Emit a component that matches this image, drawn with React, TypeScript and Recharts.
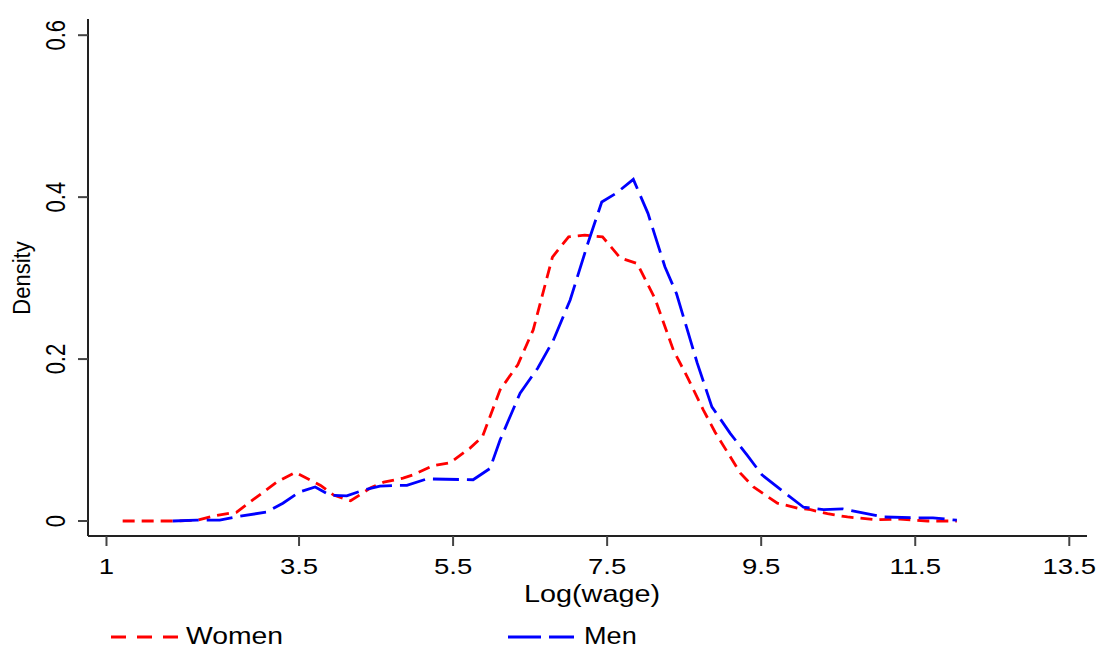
import { Line, LineChart, XAxis, YAxis } from "recharts";

const RED = "#FF0000";
const BLUE = "#0000FF";
const FONT = "'Liberation Sans', Arial, sans-serif";

const xTicks = [1, 3.5, 5.5, 7.5, 9.5, 11.5, 13.5];
const yTicks = [0, 0.2, 0.4, 0.6];

// kernel density of log wage, women
const womenX = [
  1.21, 1.86, 2.18, 2.38, 2.69, 2.9, 3.21, 3.45, 3.78, 3.95, 4.17, 4.43, 4.6, 4.85, 4.98, 5.23, 5.46, 5.72,
  5.88, 6.11, 6.34, 6.54, 6.79, 7.0, 7.21, 7.44, 7.67, 7.89, 8.12, 8.36, 8.54, 8.75, 8.9, 9.23, 9.4, 9.71,
  9.97, 10.14, 10.36, 10.62, 11.0, 11.3, 11.66, 12.04,
];
const womenY = [
  0.0, 0.0, 0.001, 0.006, 0.011, 0.026, 0.048, 0.06, 0.044, 0.032, 0.025, 0.041, 0.048, 0.053, 0.057, 0.068,
  0.072, 0.09, 0.104, 0.162, 0.193, 0.236, 0.326, 0.351, 0.353, 0.351, 0.325, 0.318, 0.275, 0.211, 0.178,
  0.137, 0.11, 0.059, 0.042, 0.022, 0.016, 0.014, 0.009, 0.005, 0.0015, 0.0025, 0.0, 0.0,
];

// men
const menX = [
  1.86, 2.17, 2.47, 2.73, 3.08, 3.29, 3.51, 3.71, 3.9, 4.12, 4.33, 4.55, 4.77, 4.9, 5.16, 5.76, 5.98, 6.11,
  6.37, 6.6, 6.8, 7.02, 7.25, 7.43, 7.62, 7.84, 8.03, 8.25, 8.4, 8.67, 8.86, 9.1, 9.32, 9.51, 9.79, 10.05,
  10.31, 10.56, 11.08, 11.47, 11.73, 12.04,
];
const menY = [
  0.0, 0.001, 0.001, 0.006, 0.011, 0.022, 0.036, 0.042, 0.032, 0.031, 0.038, 0.043, 0.044, 0.044, 0.052, 0.051,
  0.065, 0.1, 0.158, 0.189, 0.223, 0.273, 0.343, 0.394, 0.405, 0.422, 0.38, 0.314, 0.281, 0.195, 0.141, 0.108,
  0.081, 0.057, 0.036, 0.017, 0.014, 0.015, 0.005, 0.004, 0.004, 0.001,
];

const women = womenX.map((x, i) => ({ x, y: womenY[i] }));
const men = menX.map((x, i) => ({ x, y: menY[i] }));

function XTick({ x, y, payload }: any) {
  return (
    <g transform={`translate(${x},${y}) scale(1.25,1)`}>
      <text textAnchor="middle" dy="0.71em" fontSize={22} fontFamily={FONT} fill="#000">
        {payload.value}
      </text>
    </g>
  );
}

function YTick({ x, y, payload }: any) {
  return (
    <g transform={`translate(${x},${y}) scale(1.25,1) rotate(-90)`}>
      <text textAnchor="middle" fontSize={22} fontFamily={FONT} fill="#000">
        {payload.value}
      </text>
    </g>
  );
}

export default function App() {
  return (
    <div style={{ position: "absolute", left: 0, top: 0, width: 1100, height: 649, background: "#fff" }}>
      <LineChart width={1100} height={649} margin={{ top: 19, right: 13, left: 0, bottom: 0 }}>
        <XAxis
          type="number"
          dataKey="x"
          domain={[0.76, 13.73]}
          ticks={xTicks}
          allowDataOverflow
          height={113}
          tickSize={10}
          tickMargin={12}
          tick={<XTick />}
          stroke="#222"
          strokeWidth={2}
          tickLine={{ stroke: "#444", strokeWidth: 2 }}
        />
        <XAxis
          xAxisId="top"
          orientation="top"
          type="number"
          domain={[0.76, 13.73]}
          height={0}
          tick={false}
          tickLine={false}
          stroke="#333"
          strokeWidth={2}
        />
        <YAxis
          type="number"
          domain={[-0.0185, 0.62]}
          ticks={yTicks}
          allowDataOverflow
          width={88}
          tickSize={10}
          tickMargin={13}
          tick={<YTick />}
          stroke="#222"
          strokeWidth={2}
          tickLine={{ stroke: "#444", strokeWidth: 2 }}
        />
        <YAxis
          yAxisId="right"
          orientation="right"
          type="number"
          domain={[0, 1]}
          width={0}
          tick={false}
          tickLine={false}
          stroke="#333"
          strokeWidth={2}
        />
        <Line
          data={women}
          dataKey="y"
          type="linear"
          stroke={RED}
          strokeWidth={2.8}
          strokeDasharray="12 7"
          dot={false}
          isAnimationActive={false}
        />
        <Line
          data={men}
          dataKey="y"
          type="linear"
          stroke={BLUE}
          strokeWidth={2.8}
          strokeDasharray="26 8"
          dot={false}
          isAnimationActive={false}
        />
      </LineChart>
      <svg
        width={1100}
        height={649}
        style={{ position: "absolute", left: 0, top: 0, pointerEvents: "none" }}
        fontFamily={FONT}
      >
        <g transform="translate(30,278) scale(1.1,1) rotate(-90)">
          <text textAnchor="middle" fontSize={22} fill="#000">Density</text>
        </g>
        <g transform="translate(592,602) scale(1.2,1)">
          <text textAnchor="middle" fontSize={24} fill="#000">Log(wage)</text>
        </g>
        <line x1={111} y1={637} x2={178} y2={637} stroke={RED} strokeWidth={2.8} strokeDasharray="15 11" />
        <g transform="translate(186,643.5) scale(1.18,1)">
          <text fontSize={24} fill="#000">Women</text>
        </g>
        <line x1={508} y1={637} x2={574} y2={637} stroke={BLUE} strokeWidth={2.8} strokeDasharray="33 8" />
        <g transform="translate(584,643.5) scale(1.13,1)">
          <text fontSize={24} fill="#000">Men</text>
        </g>
      </svg>
    </div>
  );
}
